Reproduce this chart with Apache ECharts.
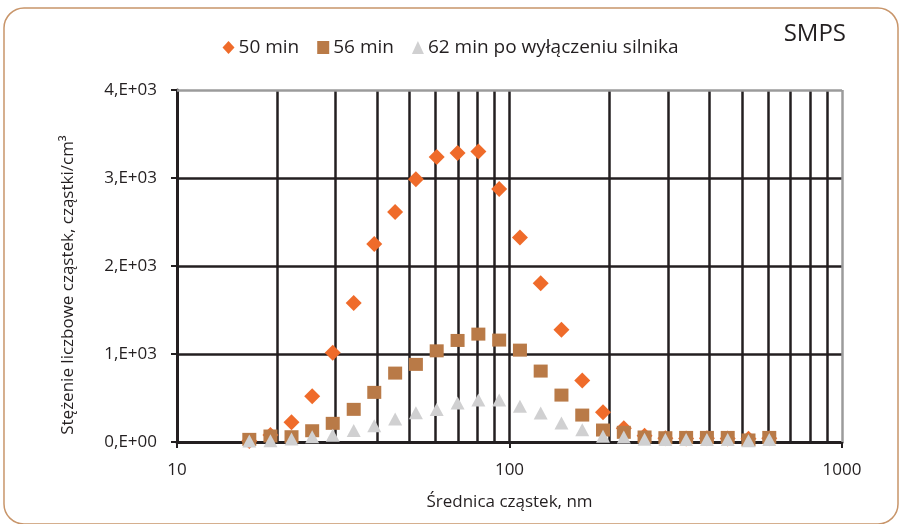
<!DOCTYPE html>
<html>
<head>
<meta charset="utf-8">
<script src="https://cdn.jsdelivr.net/npm/echarts@6/dist/echarts.min.js"></script>
<style>
html,body{margin:0;padding:0;background:#fff;}
#chart{width:901px;height:524px;}
</style>
</head>
<body>
<div id="chart"></div>
<script>
// particle diameters, nm
var diameters = [16.5, 19.1, 22.1, 25.5, 29.4, 34.0, 39.2, 45.3, 52.3, 60.4, 69.8, 80.6, 93.1,
  107.5, 124.1, 143.3, 165.5, 191.1, 220.7, 254.8, 294.3, 339.8, 392.4, 453.2, 523.3, 604.3];
// number concentration, particles/cm3
var min50 = [12, 80, 225, 520, 1015, 1580, 2250, 2615, 2985, 3240, 3285, 3300, 2875,
  2325, 1805, 1275, 700, 337, 157, 72, 42, 40, 42, 40, 38, 42];
var min56 = [30, 68, 60, 128, 212, 371, 564, 783, 882, 1036, 1154, 1226, 1158,
  1044, 806, 533, 306, 136, 110, 57, 49, 52, 52, 52, 23, 52];
var min62 = [10, 15, 33, 60, 76, 132, 185, 261, 333, 368, 443, 477, 477,
  405, 330, 216, 140, 64, 57, 30, 27, 27, 27, 27, 15, 27];
var seriesNames = ['50 min', '56 min', '62 min po wyłączeniu silnika'];
var xTicks = [10, 100, 1000];
var yTicks = [0, 1000, 2000, 3000, 4000];
var yTickLabels = ['0,E+00', '1,E+03', '2,E+03', '3,E+03', '4,E+03'];
var gridX = [20, 30, 40, 50, 60, 70, 80, 90, 100, 200, 300, 400, 500, 600, 700, 800, 900];
var gridY = [1000, 2000, 3000];

function pairs(xs, ys) { return xs.map(function (x, i) { return [x, ys[i]]; }); }

var FONT = "'Open Sans', 'Liberation Sans', sans-serif";
var DARK = '#231f20';
var chart = echarts.init(document.getElementById('chart'), null, {renderer: 'canvas'});

var gridLines = gridX.map(function (v) { return {xAxis: v}; })
  .concat(gridY.map(function (v) { return {yAxis: v}; }))
  .concat([{yAxis: 4000, lineStyle: {color: '#9b9b9b'}}, {xAxis: 1000, lineStyle: {color: '#9b9b9b'}}]);

chart.setOption({
  animation: false,
  textStyle: {fontFamily: FONT},
  title: {
    text: 'SMPS', right: 50, top: 17,
    textStyle: {fontFamily: FONT, fontSize: 24, fontWeight: 'normal', color: '#231f20'}
  },
  legend: {
    top: 33, left: 'center',
    itemWidth: 12, itemHeight: 13, itemGap: 18,
    textStyle: {fontFamily: FONT, fontSize: 19, color: '#231f20', padding: [0, 0, 0, -1]},
    data: [
      {name: seriesNames[0], icon: 'diamond'},
      {name: seriesNames[1], icon: 'rect'},
      {name: seriesNames[2], icon: 'triangle'}
    ]
  },
  graphic: [{
    type: 'rect', silent: true, z: -1,
    shape: {x: 4, y: 8, width: 894, height: 516, r: 20},
    style: {fill: 'none', stroke: '#c8956a', lineWidth: 1.5}
  }, {
    type: 'text', silent: true,
    x: 68, y: 285, rotation: Math.PI / 2,
    style: {
      text: 'Stężenie liczbowe cząstek, cząstki/cm³',
      font: '17px ' + FONT, fill: '#231f20', align: 'center', verticalAlign: 'middle'
    }
  }],
  grid: {left: 177, right: 59, top: 90, bottom: 82, containLabel: false},
  xAxis: {
    type: 'log', logBase: 10, min: 10, max: 1000,
    name: 'Średnica cząstek, nm', nameLocation: 'middle', nameGap: 52,
    nameTextStyle: {fontFamily: FONT, fontSize: 17, color: '#231f20'},
    axisLine: {show: true, onZero: false, lineStyle: {color: DARK, width: 3}},
    axisTick: {show: true, length: 6, lineStyle: {color: DARK, width: 2}},
    axisLabel: {
      margin: 20, fontSize: 17, color: '#231f20', fontFamily: FONT,
      formatter: function (v) { return String(Math.round(v)); }
    },
    splitLine: {show: false},
    minorTick: {show: false}
  },
  yAxis: {
    type: 'value', min: 0, max: 4000, interval: 1000,
    axisLine: {show: true, lineStyle: {color: DARK, width: 3}},
    axisTick: {show: true, length: 6, lineStyle: {color: DARK, width: 2}},
    axisLabel: {
      margin: 20, fontSize: 17, color: '#231f20', fontFamily: FONT,
      formatter: function (v) { return yTickLabels[yTicks.indexOf(v)]; }
    },
    splitLine: {show: false}
  },
  series: [
    {
      type: 'line', name: 'grid', data: [], z: 1, silent: true,
      markLine: {
        silent: true, symbol: ['none', 'none'], z: 1, animation: false,
        label: {show: false},
        lineStyle: {color: DARK, width: 2.5, type: 'solid'},
        emphasis: {disabled: true},
        data: gridLines
      }
    },
    {
      type: 'scatter', name: seriesNames[0], data: pairs(diameters, min50),
      symbol: 'diamond', symbolSize: [16, 16], z: 3,
      itemStyle: {color: '#ef6b2a', opacity: 1}
    },
    {
      type: 'scatter', name: seriesNames[1], data: pairs(diameters, min56),
      symbol: 'rect', symbolSize: [14, 13], z: 4,
      itemStyle: {color: '#b97a47', opacity: 1}
    },
    {
      type: 'scatter', name: seriesNames[2], data: pairs(diameters, min62),
      symbol: 'triangle', symbolSize: [14, 13], z: 5,
      itemStyle: {color: '#d0d0d1', opacity: 1}
    }
  ]
});
</script>
</body>
</html>
